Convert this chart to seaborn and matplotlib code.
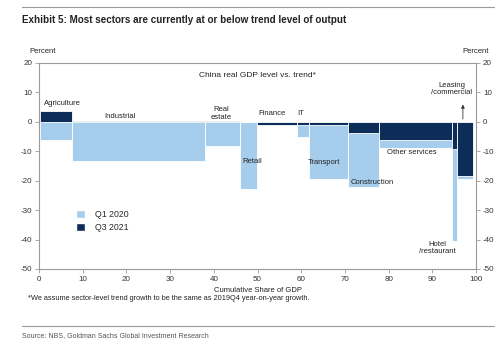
import matplotlib
matplotlib.use("Agg")
import matplotlib.pyplot as plt
from matplotlib.patches import Patch
import numpy as np
import pandas as pd
import seaborn as sns

# Sector data: share of GDP (bar width) and level vs. trend (%)
sectors = ["Agriculture", "Industrial", "Real estate", "Retail", "Finance", "IT",
           "Transport", "Construction", "Other services", "Hotel/restaurant",
           "Leasing/commercial"]
gdp_share = [7.2, 30.6, 7.9, 3.9, 9.2, 2.7, 8.8, 7.1, 16.8, 1.1, 3.8]
q1_2020 = [-6.1, -13.2, -8.1, -22.8, -0.5, -5.1, -19.4, -22.0, -8.8, -40.4, -19.3]
q3_2021 = [3.8, 0.4, 0.3, 0.0, -1.0, -1.0, -1.2, -3.7, -6.1, -9.2, -18.5]

x_ticks = [0, 10, 20, 30, 40, 50, 60, 70, 80, 90, 100]
y_ticks = [20, 10, 0, -10, -20, -30, -40, -50]

df = pd.DataFrame({"sector": sectors, "share": gdp_share,
                   "Q1 2020": q1_2020, "Q3 2021": q3_2021})
start = 0.3
df["left"] = start + df["share"].cumsum() - df["share"]

sns.set_style("white")
plt.rcParams["font.family"] = ["Liberation Sans", "DejaVu Sans"]
plt.rcParams["axes.unicode_minus"] = False
light, dark = "#a7cdec", "#0b2d57"
grey = "#9a9a9a"

fig = plt.figure(figsize=(5.0, 3.42), dpi=100)
ax = fig.add_axes([0.078, 0.2135, 0.874, 0.6025])

for col, colr in (("Q1 2020", light), ("Q3 2021", dark)):
    ax.bar(df["left"], df[col], width=df["share"], align="edge",
           color=colr, edgecolor="white", linewidth=0.6, zorder=2)

ax.set_xlim(0, 100)
ax.set_ylim(-50, 20)
ax.set_xticks(x_ticks)
ax.set_yticks(y_ticks)
ax.tick_params(axis="both", labelsize=5.8, colors="#333333", length=3,
               width=0.6, color=grey, direction="out", pad=2)
ax.tick_params(axis="y", left=True, right=True, labelleft=True, labelright=True)
ax.tick_params(axis="x", bottom=True)
for s in ax.spines.values():
    s.set_color(grey)
    s.set_linewidth(0.8)

ax.set_xlabel("Cumulative Share of GDP", fontsize=5.5, color="#222222", labelpad=3)

# Sector labels
lab = dict(fontsize=5.5, color="#222222")
ax.text(5.3, 6.1, "Agriculture", ha="center", va="center", **lab)
ax.text(18.5, 1.7, "Industrial", ha="center", va="center", **lab)
ax.text(41.6, 2.9, "Real\nestate", ha="center", va="center", linespacing=1.1, **lab)
ax.text(46.5, -13.6, "Retail", ha="left", va="center", **lab)
ax.text(53.3, 2.7, "Finance", ha="center", va="center", **lab)
ax.text(59.0, 2.7, "IT", ha="left", va="center", **lab)
ax.text(61.6, -13.9, "Transport", ha="left", va="center", **lab)
ax.text(71.2, -20.7, "Construction", ha="left", va="center", **lab)
ax.text(85.4, -10.5, "Other services", ha="center", va="center", **lab)
ax.text(94.5, 11.2, "Leasing\n/commercial", ha="center", va="center", linespacing=1.1, **lab)
ax.text(91.1, -42.9, "Hotel\n/restaurant", ha="center", va="center", linespacing=1.1, **lab)
ax.annotate("", xy=(97.0, 6.8), xytext=(97.0, 0),
            arrowprops=dict(arrowstyle="-|>", color="#333333", lw=0.6,
                            mutation_scale=5), zorder=3)
ax.text(50.1, 15.6, "China real GDP level vs. trend*", ha="center", va="center",
        fontsize=6, color="#222222")

handles = [Patch(facecolor=light, label="Q1 2020"), Patch(facecolor=dark, label="Q3 2021")]
ax.legend(handles=handles, loc="upper left", bbox_to_anchor=(0.085, 0.285),
          frameon=False, fontsize=6.3, handlelength=1.0, handleheight=1.0,
          handletextpad=1.2, labelspacing=0.4, borderaxespad=0, borderpad=0)

# Header, units, footnote and source
fig.text(0.044, 0.942, "Exhibit 5: Most sectors are currently at or below trend level of output",
         family=["Liberation Sans Narrow", "Liberation Sans"], weight="bold",
         fontsize=7.1, color="#222222", va="center")
fig.add_artist(plt.Line2D([0.044, 0.988], [0.979, 0.979], color=grey, lw=0.8))
fig.add_artist(plt.Line2D([0.044, 0.988], [0.047, 0.047], color=grey, lw=0.8))
fig.text(0.058, 0.848, "Percent", fontsize=5.5, color="#222222", va="center")
fig.text(0.978, 0.848, "Percent", fontsize=5.5, color="#222222", va="center", ha="right")
fig.text(0.056, 0.126,
         "*We assume sector-level trend growth to be the same as 2019Q4 year-on-year growth.",
         fontsize=5.3, color="#222222", va="center")
fig.text(0.044, 0.018, "Source: NBS, Goldman Sachs Global Investment Research",
         family=["Liberation Sans Narrow", "Liberation Sans"],
         fontsize=5.0, color="#555555", va="center")

fig.savefig("out.png", dpi=100)
